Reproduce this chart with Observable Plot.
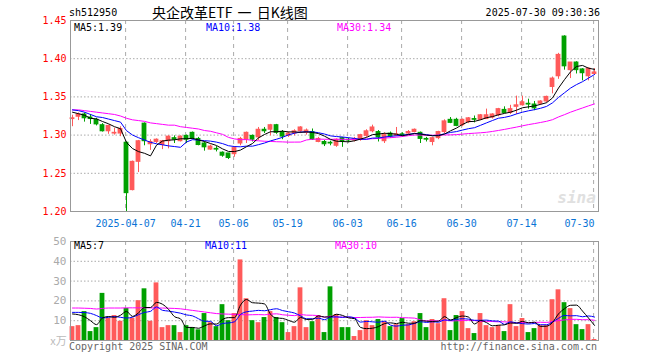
<!DOCTYPE html>
<html><head><meta charset="utf-8">
<script src="https://cdn.jsdelivr.net/npm/d3@7"></script>
<script src="https://cdn.jsdelivr.net/npm/@observablehq/plot@0.6"></script>
<style>
body{margin:0;background:#fff}
#wrap{position:relative;width:660px;height:360px;overflow:hidden;font-family:"DejaVu Sans Mono",monospace;font-size:10px}
.t{position:absolute;white-space:pre;line-height:10px}
#wrap svg{position:absolute;left:0}
</style></head><body><div id="wrap"></div>
<script>
// ---- data ----
const code = "sh512950";
const title = "央企改革ETF 一 日K线图";
const stamp = "2025-07-30 09:30:36";
const dateLabels = ["2025-04-07","04-21","05-06","05-19","06-03","06-16","06-30","07-14","07-30"];
const dateIndex = [9,19,27,36,46,55,65,75,87];
const priceTicks = [1.20,1.25,1.30,1.35,1.40,1.45];
const volTicks = [10,20,30,40,50];

const open = [1.321,1.324,1.327,1.323,1.320,1.313,1.305,1.302,1.302,1.290,
1.228,1.265,1.315,1.288,1.291,1.287,1.292,1.296,1.292,1.299,
1.303,1.295,1.289,1.281,1.282,1.277,1.276,1.275,1.289,1.294,
1.299,1.297,1.307,1.307,1.313,1.304,1.299,1.302,1.305,1.303,
1.304,1.291,1.291,1.290,1.286,1.296,1.294,1.293,1.294,1.299,
1.305,1.304,1.292,1.302,1.299,1.301,1.302,1.304,1.303,1.295,
1.291,1.296,1.304,1.320,1.320,1.313,1.317,1.321,1.320,1.321,
1.323,1.326,1.333,1.329,1.337,1.339,1.341,1.340,1.341,1.344,
1.363,1.377,1.429,1.385,1.395,1.386,1.377,1.380];
const high = [1.326,1.329,1.329,1.327,1.322,1.315,1.313,1.309,1.311,1.291,
1.266,1.293,1.316,1.294,1.295,1.293,1.299,1.299,1.299,1.300,
1.304,1.297,1.291,1.287,1.285,1.278,1.276,1.285,1.297,1.304,
1.300,1.310,1.310,1.314,1.314,1.306,1.304,1.307,1.311,1.308,
1.308,1.297,1.293,1.292,1.295,1.297,1.296,1.297,1.301,1.307,
1.313,1.306,1.303,1.304,1.310,1.303,1.306,1.308,1.304,1.297,
1.297,1.305,1.320,1.323,1.322,1.321,1.323,1.325,1.327,1.334,
1.328,1.335,1.337,1.339,1.351,1.351,1.347,1.344,1.345,1.351,
1.376,1.407,1.430,1.395,1.396,1.387,1.388,1.387];
const low = [1.311,1.319,1.317,1.314,1.312,1.304,1.301,1.300,1.298,1.200,
1.227,1.251,1.286,1.280,1.289,1.281,1.282,1.289,1.291,1.289,
1.294,1.286,1.279,1.280,1.278,1.271,1.268,1.271,1.286,1.289,
1.291,1.293,1.302,1.299,1.301,1.294,1.297,1.299,1.302,1.300,
1.293,1.290,1.285,1.286,1.284,1.284,1.290,1.291,1.292,1.297,
1.303,1.291,1.289,1.296,1.298,1.298,1.300,1.303,1.289,1.291,
1.286,1.294,1.302,1.315,1.311,1.311,1.315,1.316,1.319,1.321,
1.321,1.324,1.328,1.327,1.327,1.338,1.334,1.332,1.339,1.342,
1.354,1.373,1.385,1.374,1.380,1.371,1.371,1.378];
const close = [1.322,1.327,1.322,1.321,1.314,1.305,1.312,1.303,1.308,1.224,
1.265,1.292,1.292,1.291,1.294,1.292,1.298,1.294,1.298,1.294,
1.295,1.287,1.284,1.285,1.281,1.273,1.270,1.283,1.295,1.303,
1.294,1.307,1.305,1.313,1.303,1.298,1.302,1.305,1.310,1.306,
1.294,1.295,1.288,1.289,1.294,1.292,1.293,1.295,1.300,1.305,
1.310,1.297,1.300,1.298,1.301,1.300,1.304,1.307,1.295,1.294,
1.296,1.304,1.318,1.316,1.312,1.320,1.322,1.320,1.326,1.326,
1.327,1.334,1.329,1.334,1.339,1.343,1.340,1.335,1.344,1.350,
1.374,1.405,1.390,1.395,1.385,1.381,1.387,1.382];
const volume = [7.0,7.5,14.6,4.5,6.5,23.8,11.2,12.6,9.7,16.2,
11.2,20.1,26.1,9.7,29.1,6.5,7.5,7.5,4.0,7.5,
6.5,5.4,13.6,9.0,7.0,18.1,10.0,13.6,40.7,21.1,
10.0,9.0,11.6,14.6,11.6,9.0,4.0,7.0,26.6,6.5,
9.5,12.6,4.0,27.1,13.1,6.5,6.5,2.0,5.0,10.0,
7.5,10.6,9.5,7.0,8.0,11.1,8.0,9.5,13.6,6.5,
10.6,8.5,21.1,5.0,12.6,14.6,6.0,3.5,13.6,7.5,
6.5,7.5,4.5,18.1,7.0,11.1,4.0,6.0,7.5,7.5,
20.6,25.6,19.1,16.1,8.0,5.5,8.0,0.5];
// moving-average values at the left edge (their windows start before the chart)
const ma5Head = [1.330,1.328,1.326,1.322];
const ma10Head = [1.333,1.332,1.330,1.327,1.324,1.323,1.321,1.319,1.317];
const ma30Head = [1.333,1.333,1.332,1.331,1.330,1.329,1.328,1.327,1.325,1.322,
1.320,1.319,1.318,1.316,1.315,1.314,1.313,1.313,1.311,1.310,
1.309,1.308,1.306,1.305,1.303,1.301,1.297,1.295,1.294];
const vma5Head = [13.4,13.0,12.0,10.0];
const vma10Head = [14.2,14.2,14.1,13.7,12.6,11.4,11.7,12.1,11.7];
const vma30Head = [16.4,16.4,16.3,16.2,15.9,16.2,16.4,16.4,16.4,16.5,
16.5,16.5,16.5,16.5,16.4,16.4,16.3,16.2,16.0,15.6,
15.2,14.8,14.4,14.0,13.6,13.4,13.3,13.2,13.1];
const legendPrice = ["MA5:1.39","MA10:1.38","MA30:1.34"];
const legendVol = ["MA5:7","MA10:11","MA30:10"];

// ---- build ----
const UP = "#ff5a5a", DOWN = "#00a000";
const rows = close.map((c,i)=>({i, o:open[i], h:high[i], l:low[i], c, v:volume[i], up:c>=open[i]}));
function movingAvg(vals, n, head){
  return vals.map((v,i)=> i < n-1 ? head[i] : d3.mean(vals.slice(i-n+1, i+1)));
}
const ma5 = movingAvg(close,5,ma5Head), ma10 = movingAvg(close,10,ma10Head), ma30 = movingAvg(close,30,ma30Head);
const vma5 = movingAvg(volume,5,vma5Head), vma10 = movingAvg(volume,10,vma10Head), vma30 = movingAvg(volume,30,vma30Head);
const xDomain = [-1/3, 87 + 2/3];
const col = d => d.up ? UP : DOWN;
const idx = (d,i)=>i;
const font = {fontFamily:"DejaVu Sans Mono, monospace", fontSize:"10px", background:"transparent", overflow:"visible"};
const lastTick = dateIndex.length - 1;

const price = Plot.plot({
  width:660, height:232, marginLeft:70, marginRight:62, marginTop:20, marginBottom:21,
  x:{domain:xDomain, axis:null},
  y:{domain:[1.20,1.45], axis:null},
  style:font,
  marks:[
    Plot.ruleY(priceTicks, {stroke:"#aaa", strokeDasharray:"1.5,2"}),
    Plot.ruleX(dateIndex, {x:d=>d-0.15, stroke:"#aaa", strokeDasharray:"4,4"}),
    Plot.axisY({ticks:priceTicks, tickSize:0, tickPadding:4, tickFormat:d=>d.toFixed(2), fill:"#f00", label:null}),
    Plot.text(dateIndex.slice(0,lastTick), {x:d=>d-0.15, y:1.20, dy:12, text:(d,i)=>dateLabels[i], fill:"#0a74d6"}),
    Plot.text([dateIndex[lastTick]], {x:d=>d, y:1.20, dy:12, text:()=>dateLabels[lastTick], fill:"#0a74d6", textAnchor:"end"}),
    Plot.text(["sina"], {x:87.67, y:1.20, dx:-22, dy:-14, text:d=>d, fill:"#e0e0e0", fontSize:16, fontWeight:"bold", fontStyle:"italic"}),
    Plot.ruleX(rows, {x:"i", y1:"l", y2:"h", stroke:col, strokeWidth:1}),
    Plot.rect(rows, {x1:d=>d.i-0.4, x2:d=>d.i+0.4, y1:d=>Math.min(d.o,d.c), y2:d=>Math.max(d.o,d.c), fill:col, insetTop:-0.5, insetBottom:-0.5}),
    Plot.line(ma30, {x:idx, y:d=>d, stroke:"#f0f", strokeWidth:1}),
    Plot.line(ma10, {x:idx, y:d=>d, stroke:"#00f", strokeWidth:1}),
    Plot.line(ma5, {x:idx, y:d=>d, stroke:"#000", strokeWidth:1}),
    Plot.frame({stroke:"#999"})
  ]
});
price.style.top = "0px";

const vol = Plot.plot({
  width:660, height:128, marginLeft:70, marginRight:62, marginTop:9, marginBottom:20,
  x:{domain:xDomain, axis:null},
  y:{domain:[0,50], axis:null},
  style:font,
  marks:[
    Plot.ruleY(volTicks, {stroke:"#aaa", strokeDasharray:"1.5,2"}),
    Plot.ruleX(dateIndex, {x:d=>d-0.15, stroke:"#aaa", strokeDasharray:"4,4"}),
    Plot.axisY({ticks:volTicks, tickSize:0, tickPadding:4, tickFormat:d=>String(d), fill:"#aaa", fontSize:11, label:null}),
    Plot.text(["x万"], {x:xDomain[0], y:0, dx:-12, dy:1, text:d=>d, fill:"#bbb", fontSize:11, fontFamily:"Noto Sans CJK SC"}),
    Plot.rectY(rows, {x1:d=>d.i-0.4, x2:d=>d.i+0.4, y:"v", fill:col}),
    Plot.line(vma30, {x:idx, y:d=>d, stroke:"#f0f", strokeWidth:1, curve:"monotone-x"}),
    Plot.line(vma10, {x:idx, y:d=>d, stroke:"#00f", strokeWidth:1, curve:"monotone-x"}),
    Plot.line(vma5, {x:idx, y:d=>d, stroke:"#000", strokeWidth:1, curve:"monotone-x"}),
    Plot.frame({stroke:"#999"})
  ]
});
vol.style.top = "232px";

const wrap = document.getElementById("wrap");
wrap.appendChild(price);
wrap.appendChild(vol);
function addText(txt, left, top, css){
  const s = document.createElement("div");
  s.className = "t"; s.textContent = txt;
  s.style.left = left + "px"; s.style.top = top + "px";
  Object.assign(s.style, css || {});
  wrap.appendChild(s);
  return s;
}
addText(code, 69, 8, {color:"#000"});
addText(title, 152, 5, {fontFamily:"Noto Sans CJK SC", fontSize:"14px", lineHeight:"14px", color:"#000", wordSpacing:"2px"});
const st = addText(stamp, 0, 8, {color:"#000"}); st.style.left = "auto"; st.style.right = "60px";
addText(legendPrice[0], 74, 23, {color:"#000"});
addText(legendPrice[1], 206, 23, {color:"#00f"});
addText(legendPrice[2], 337, 23, {color:"#f0f"});
addText(legendVol[0], 74, 241, {color:"#000"});
addText(legendVol[1], 205, 241, {color:"#00f"});
addText(legendVol[2], 335, 241, {color:"#f0f"});
addText("Copyright 2025 SINA.COM", 69, 342, {color:"#666"});
const hp = addText("http://finance.sina.com.cn", 0, 342, {color:"#666"}); hp.style.left = "auto"; hp.style.right = "63px";
</script>
</body></html>
